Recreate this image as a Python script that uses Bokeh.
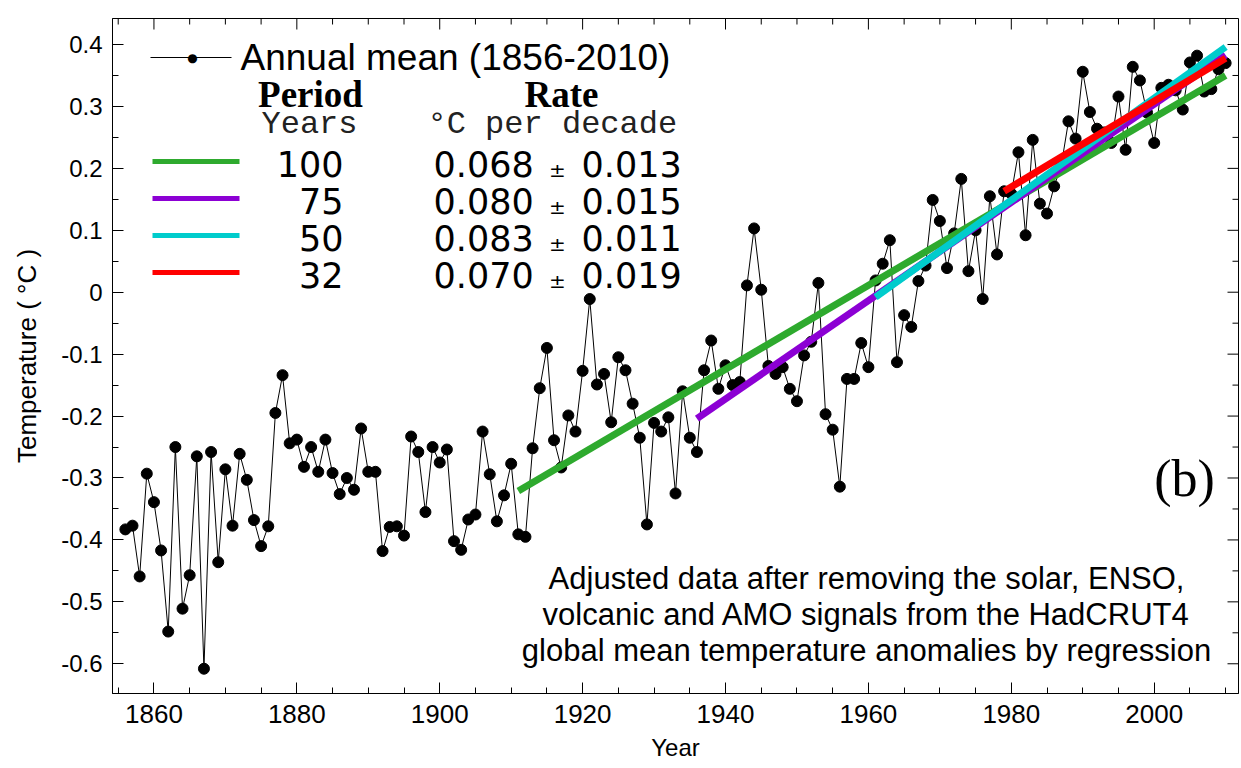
from bokeh.plotting import figure
from bokeh.models import Range1d, FixedTicker, CustomJSTickFormatter, Label, BoxAnnotation
from bokeh.embed import file_html
from bokeh.resources import INLINE

# ---------------- data ----------------
years = list(range(1856, 2011))
anomaly = [
    -0.383, -0.377, -0.459, -0.293, -0.339, -0.417, -0.548, -0.250, -0.511, -0.457,   # 1856-1865
    -0.265, -0.608, -0.258, -0.436, -0.286, -0.377, -0.261, -0.303, -0.368, -0.410,   # 1866-1875
    -0.378, -0.195, -0.134, -0.244, -0.238, -0.282, -0.250, -0.290, -0.238, -0.292,   # 1876-1885
    -0.326, -0.300, -0.319, -0.220, -0.290, -0.290, -0.418, -0.379, -0.378, -0.393,   # 1886-1895
    -0.233, -0.258, -0.355, -0.250, -0.275, -0.254, -0.402, -0.416, -0.367, -0.359,   # 1896-1905
    -0.225, -0.294, -0.370, -0.328, -0.277, -0.391, -0.395, -0.252, -0.155, -0.090,   # 1906-1915
    -0.239, -0.283, -0.199, -0.225, -0.127, -0.011, -0.149, -0.132, -0.210, -0.105,   # 1916-1925
    -0.126, -0.180, -0.235, -0.375, -0.211, -0.225, -0.202, -0.325, -0.160, -0.235,   # 1926-1935
    -0.258, -0.126, -0.078, -0.156, -0.118, -0.150, -0.145, 0.011, 0.103, 0.004,      # 1936-1945
    -0.119, -0.132, -0.121, -0.156, -0.176, -0.102, -0.080, 0.015, -0.197, -0.222,    # 1946-1955
    -0.314, -0.140, -0.140, -0.082, -0.121, 0.019, 0.046, 0.084, -0.113, -0.037,      # 1956-1965
    -0.056, 0.018, 0.043, 0.149, 0.115, 0.039, 0.095, 0.183, 0.034, 0.100,            # 1966-1975
    -0.011, 0.155, 0.061, 0.163, 0.159, 0.226, 0.092, 0.246, 0.143, 0.127,            # 1976-1985
    0.171, 0.205, 0.276, 0.248, 0.356, 0.291, 0.264, 0.258, 0.241, 0.316,             # 1986-1995
    0.230, 0.364, 0.342, 0.290, 0.241, 0.330, 0.335, 0.326, 0.295, 0.371,             # 1996-2005
    0.382, 0.324, 0.328, 0.360, 0.370,                                                # 2006-2010
]

trend_period = ["100", "75", "50", "32"]
trend_start = [1911, 1936, 1961, 1979]
trend_end = [2010, 2010, 2010, 2010]
trend_start_val = [-0.321, -0.204, -0.008, 0.163]
trend_end_val = [0.350, 0.383, 0.396, 0.378]
trend_rate = ["0.068", "0.080", "0.083", "0.070"]
trend_err = ["0.013", "0.015", "0.011", "0.019"]
trend_color = ["#2eaa2e", "#8c00d4", "#00cccc", "#ff0000"]

x_major = [1860, 1880, 1900, 1920, 1940, 1960, 1980, 2000]
x_minor = [1855, 1865, 1870, 1875, 1885, 1890, 1895, 1905, 1910, 1915, 1925, 1930,
           1935, 1945, 1950, 1955, 1965, 1970, 1975, 1985, 1990, 1995, 2005, 2010]
y_major = [-0.6, -0.5, -0.4, -0.3, -0.2, -0.1, 0.0, 0.1, 0.2, 0.3, 0.4]
y_minor = [-0.65, -0.55, -0.45, -0.35, -0.25, -0.15, -0.05, 0.05, 0.15, 0.25, 0.35]

caption = ["Adjusted data after removing the solar, ENSO,",
           "volcanic and AMO signals from the HadCRUT4",
           "global mean temperature anomalies by regression"]

# ---------------- layout ----------------
X0, X1 = 1854.2, 2011.8
Y0, Y1 = -0.648, 0.442
FL, FR, FT, FB = 112, 1238, 18, 693
PX_X = (FR - FL) / (X1 - X0)   # pixels per year
PX_Y = (FB - FT) / (Y1 - Y0)   # pixels per degree
MAJ, MIN = 11, 6               # tick lengths in pixels


def dx(px):
    return X0 + (px - FL) / PX_X


def dy(py):
    return Y0 + (FB - py) / PX_Y


p = figure(width=1241, height=768, x_range=Range1d(X0, X1), y_range=Range1d(Y0, Y1),
           output_backend="svg", toolbar_location=None,
           min_border_left=FL, min_border_right=1241 - FR, min_border_top=FT,
           min_border_bottom=768 - FB,
           x_axis_label="Year", y_axis_label="Temperature ( °C )")
p.xgrid.visible = False
p.ygrid.visible = False
p.outline_line_color = "black"
p.outline_line_width = 1
p.background_fill_color = "white"
p.border_fill_color = "white"


def style_axis(ax):
    ax.major_tick_in = MAJ
    ax.major_tick_out = 0
    ax.minor_tick_in = MIN
    ax.minor_tick_out = 0
    ax.axis_line_color = "black"
    ax.major_tick_line_color = "black"
    ax.minor_tick_line_color = "black"
    ax.major_label_text_color = "black"
    ax.major_label_text_font = "Liberation Sans"
    ax.axis_label_text_font = "Liberation Sans"
    ax.axis_label_text_font_style = "normal"
    ax.axis_label_text_color = "black"


xa = p.xaxis[0]
style_axis(xa)
xa.ticker = FixedTicker(ticks=x_major, minor_ticks=x_minor)
xa.major_label_text_font_size = "26px"
xa.major_label_standoff = 11
xa.axis_label_text_font_size = "24px"
xa.axis_label_standoff = 8

ya = p.yaxis[0]
style_axis(ya)
ya.ticker = FixedTicker(ticks=y_major, minor_ticks=y_minor)
ya.formatter = CustomJSTickFormatter(
    code="const v = Math.round(tick*10)/10; return v === 0 ? '0' : v.toFixed(1);")
ya.major_label_text_font_size = "24px"
ya.major_label_standoff = 10
ya.axis_label_text_font_size = "26px"
ya.axis_label_standoff = 16

# mirrored inward ticks on the right and top frame edges
for ticks, ln in ((y_major, MAJ), (y_minor, MIN)):
    p.segment(x0=[X1] * len(ticks), y0=ticks, x1=[X1 - ln / PX_X] * len(ticks), y1=ticks,
              line_color="black", line_width=1)
for ticks, ln in ((x_major, MAJ), (x_minor, MIN)):
    p.segment(x0=ticks, y0=[Y1] * len(ticks), x1=ticks, y1=[Y1 - ln / PX_Y] * len(ticks),
              line_color="black", line_width=1)

# ---------------- data marks ----------------
p.line(years, anomaly, line_color="black", line_width=1)
p.scatter(years, anomaly, size=11, marker="circle", fill_color="black", line_color="black")

for i in range(len(trend_period)):
    p.line([trend_start[i], trend_end[i]], [trend_start_val[i], trend_end_val[i]],
           line_color=trend_color[i], line_width=7)

# ---------------- legend (drawn as annotations) ----------------
p.add_layout(BoxAnnotation(left=dx(150), right=dx(231), top=dy(56.5), bottom=dy(57.5),
                           fill_color="black", fill_alpha=1, line_alpha=0))
p.add_layout(Label(x=dx(192), y=dy(57), text="●", text_font="DejaVu Sans", text_font_size="12px",
                   text_align="center", text_baseline="middle", text_color="black"))
p.add_layout(Label(x=dx(240), y=dy(57), text="Annual mean (1856-2010)", text_font="Liberation Sans",
                   text_font_size="37px", text_align="left", text_baseline="middle", text_color="black"))
p.add_layout(Label(x=dx(310), y=dy(94), text="Period", text_font="Liberation Serif", text_font_style="bold",
                   text_font_size="37px", text_align="center", text_baseline="middle", text_color="black"))
p.add_layout(Label(x=dx(561), y=dy(94), text="Rate", text_font="Liberation Serif", text_font_style="bold",
                   text_font_size="37px", text_align="center", text_baseline="middle", text_color="black"))
p.add_layout(Label(x=dx(309), y=dy(124), text="Years", text_font="Liberation Mono",
                   text_font_size="32px", text_align="center", text_baseline="middle", text_color="#222222"))
p.add_layout(Label(x=dx(427), y=dy(124), text="°C per decade", text_font="Liberation Mono",
                   text_font_size="32px", text_align="left", text_baseline="middle", text_color="#222222"))

row_y = [161, 198, 235, 272]
for i in range(len(trend_period)):
    yy = row_y[i]
    p.add_layout(BoxAnnotation(left=dx(152), right=dx(239), top=dy(yy - 2.5), bottom=dy(yy + 2.5),
                               fill_color=trend_color[i], fill_alpha=1, line_alpha=0))
    p.add_layout(Label(x=dx(343), y=dy(yy + 2), text=trend_period[i], text_font="DejaVu Sans",
                       text_font_size="35px", text_align="right", text_baseline="middle", text_color="black"))
    p.add_layout(Label(x=dx(433), y=dy(yy + 2), text=trend_rate[i], text_font="DejaVu Sans",
                       text_font_size="35px", text_align="left", text_baseline="middle", text_color="black"))
    p.add_layout(Label(x=dx(557), y=dy(yy + 8), text="±", text_font="DejaVu Sans",
                       text_font_size="20px", text_align="center", text_baseline="middle", text_color="black"))
    p.add_layout(Label(x=dx(581), y=dy(yy + 2), text=trend_err[i], text_font="DejaVu Sans",
                       text_font_size="35px", text_align="left", text_baseline="middle", text_color="black"))

# ---------------- panel tag and caption ----------------
p.add_layout(Label(x=dx(1184), y=dy(478), text="(b)", text_font="Liberation Serif",
                   text_font_size="52px", text_align="center", text_baseline="middle", text_color="black"))
for j, line in enumerate(caption):
    p.add_layout(Label(x=dx(866), y=dy(578 + 36 * j), text=line, text_font="Liberation Sans",
                       text_font_size="31px", text_align="center", text_baseline="middle", text_color="black"))

open("out.html", "w").write(file_html(p, INLINE))
